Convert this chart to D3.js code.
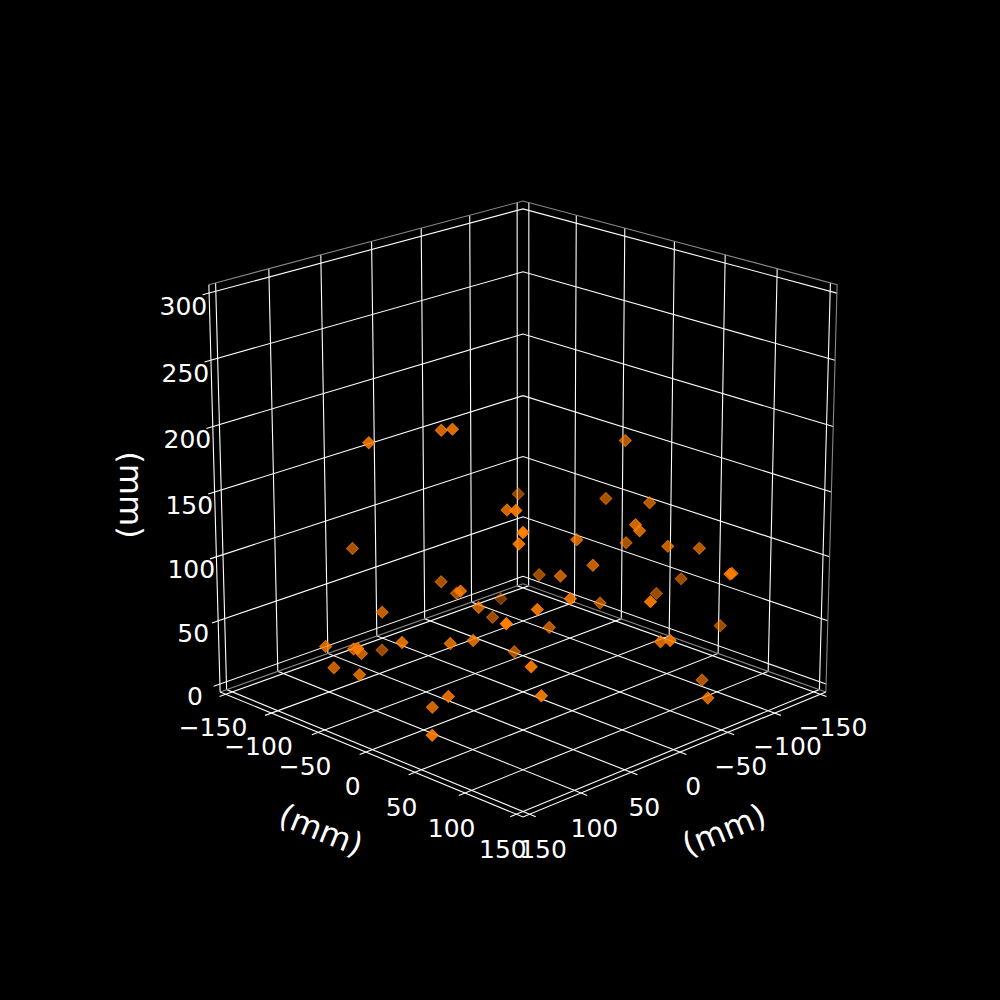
<!DOCTYPE html>
<html>
<head>
<meta charset="utf-8">
<script src="https://cdn.jsdelivr.net/npm/d3@7"></script>
<style>html,body{margin:0;background:#000}</style>
</head>
<body>
<svg id="chart" width="1000" height="1000"></svg>
<script>
// points in mm
const xs = [108,49,64,52,12,6,87, 88,38,-30,143,125,80,68, 109,148,106,34,122,131,111, 100,146,-101,-86,-87,-88,-88, 29,68,-33,-34,111,72,-1, -91,-68,-105,-27,-62,-8,-136, -56,-58,-120,17,34,-67,-148, 74,133,-15,-26,4,-14,86, -98,-35,86];
const ys = [-45,-33,-6,-125,-73,-63,25, -55,-7,-62,-55,5,7,18, -63,-16,-58,-114,-70,-33,37, 9,57,-125,19,-92,-2,42, 13,61,80,83,111,68,53, 16,79,76,44,-45,30,30, 150,150,20,142,81,13,59, 88,117,12,112,149,-23,94, 87,150,104];
const zs = [203,201,212,87,64,56,104, 66,69,27,55,70,57,59, 41,66,38,4,28,36,34, 14,21,5,173,103,122,130, 147,169,137,133,177,147,127, 91,111,99,98,57,91,54, 112,112,44,109,99,49,21, 104,118,44,58,78,15,66, 0,23,47];

const xyTicks = [-150,-100,-50,0,50,100,150];
const zTicks = [0,50,100,150,200,250,300];
const axisTitle = "(mm)";

// camera, same idea as a matplotlib 3d axes
const elev = 19.6 * Math.PI / 180, azim = Math.PI / 4, dist = 10;
const focal = 3965, centerX = 523;
const normal = [Math.cos(elev)*Math.cos(azim), Math.cos(elev)*Math.sin(azim), Math.sin(elev)];
const right = [-Math.sin(azim), Math.cos(azim), 0];
const up = [-Math.sin(elev)*Math.cos(azim), -Math.sin(elev)*Math.sin(azim), Math.cos(elev)];
const dot = (a, b) => a[0]*b[0] + a[1]*b[1] + a[2]*b[2];

const lim = 156.25, zLo = -6.25, zHi = 306.25;
const xyScale = d3.scaleLinear().domain([-lim, lim]).range([-0.55, 0.55]);
const zScale = d3.scaleLinear().domain([zLo, zHi]).range([-0.545, 0.545]);

function view(x, y, z) {
  const p = [xyScale(x), xyScale(y), zScale(z)];
  const w = dot(p, normal);
  return [dot(p, right) / (dist - w) * focal, -dot(p, up) / (dist - w) * focal, w];
}
const centerY = 201 - view(-lim, -lim, zHi)[1];
const project = (x, y, z) => {
  const q = view(x, y, z);
  return [centerX + q[0], centerY + q[1], q[2]];
};

const svg = d3.select("#chart");
const line = d3.line();

function edge(pts, color) {
  svg.append("path")
    .attr("d", line(pts.map(p => project(...p).slice(0, 2))))
    .attr("fill", "none")
    .attr("stroke", color)
    .attr("stroke-width", 1.1);
}

// grid
xyTicks.forEach(t => {
  edge([[t, lim+6, zLo], [t, -lim, zLo], [t, -lim, zHi]], "#fff");
  edge([[lim+6, t, zLo], [-lim, t, zLo], [-lim, t, zHi]], "#fff");
});
zTicks.forEach(t => edge([[lim+6, -lim, t], [-lim, -lim, t], [-lim, lim, t]], "#fff"));

// pane edges and axis lines
edge([[lim, -lim, zHi], [-lim, -lim, zHi], [-lim, lim, zHi], [-lim, lim, zLo]], "#888");
edge([[lim, -lim, zLo], [-lim, -lim, zLo], [-lim, lim, zLo]], "#888");
edge([[lim, -lim, zLo], [lim, lim, zLo], [-lim, lim, zLo]], "#fff");
edge([[lim, -lim, zLo], [lim, -lim, zHi]], "#fff");

// tick labels
function tickLabel(p, t) {
  svg.append("text")
    .attr("x", p[0]).attr("y", p[1])
    .attr("fill", "#fff")
    .attr("font-family", "DejaVu Sans")
    .attr("font-size", 25)
    .attr("text-anchor", "middle")
    .attr("dominant-baseline", "central")
    .text(String(t).replace("-", "\u2212"));
}
xyTicks.forEach(t => {
  tickLabel(project(t, lim+13, zLo-22.5), t);
  tickLabel(project(lim+13, t, zLo-22.5), t);
});
zTicks.forEach(t => tickLabel(project(lim+13, -lim-13, t-10), t));

// axis titles
[[321, 830, 22], [724, 830, -22], [131, 495, 90]].forEach(a => {
  svg.append("text")
    .attr("transform", `translate(${a[0]},${a[1]}) rotate(${a[2]})`)
    .attr("fill", "#fff")
    .attr("font-family", "DejaVu Sans")
    .attr("font-size", 32)
    .attr("text-anchor", "middle")
    .attr("dominant-baseline", "central")
    .text(axisTitle);
});

// points, far ones first and dimmer
const depthShade = d3.scaleLinear().domain([-0.7, 0.55]).range([0.45, 1]).clamp(true);
const diamond = d3.symbol().type(d3.symbolSquare).size(72);
const points = d3.range(xs.length)
  .map(i => project(xs[i], ys[i], zs[i]))
  .sort((a, b) => a[2] - b[2]);
svg.append("g").selectAll("path").data(points).join("path")
  .attr("d", diamond)
  .attr("transform", d => `translate(${d[0]},${d[1]}) rotate(45)`)
  .attr("fill", "#ff7f00")
  .attr("stroke", "#ff7f00")
  .attr("stroke-width", 1)
  .attr("fill-opacity", d => depthShade(d[2]))
  .attr("stroke-opacity", d => depthShade(d[2]));
</script>
</body>
</html>
